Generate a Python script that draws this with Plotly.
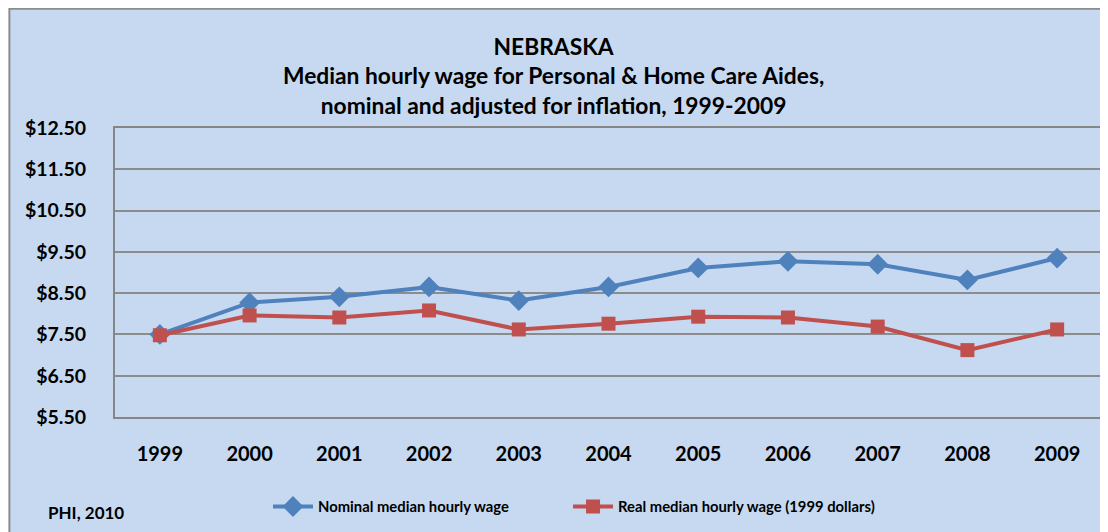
import plotly.graph_objects as go

# data
years = ["1999", "2000", "2001", "2002", "2003", "2004", "2005", "2006", "2007", "2008", "2009"]
nominal_wage = [7.50, 8.27, 8.41, 8.65, 8.32, 8.65, 9.11, 9.27, 9.20, 8.82, 9.35]
real_wage = [7.48, 7.96, 7.91, 8.08, 7.62, 7.76, 7.93, 7.91, 7.69, 7.12, 7.62]
ytick_values = [5.5, 6.5, 7.5, 8.5, 9.5, 10.5, 11.5, 12.5]
ytick_text = ["$5.50", "$6.50", "$7.50", "$8.50", "$9.50", "$10.50", "$11.50", "$12.50"]

blue = "#4F81BD"
red = "#C0504D"
font_family = "Lato, 'Open Sans', sans-serif"

fig = go.Figure()
fig.add_trace(go.Scatter(
    x=years, y=nominal_wage, name="Nominal median hourly wage",
    mode="lines+markers",
    line=dict(color=blue, width=4),
    marker=dict(symbol="diamond", size=16, color=blue),
    legend="legend",
))
fig.add_trace(go.Scatter(
    x=years, y=real_wage, name="Real median hourly wage (1999 dollars)",
    mode="lines+markers",
    line=dict(color=red, width=4),
    marker=dict(symbol="square", size=14, color=red),
    legend="legend2",
))

# chart area background with border
fig.add_shape(type="rect", xref="paper", yref="paper",
              x0=-0.107, x1=1.02, y0=-0.5, y1=1.413,
              fillcolor="#C6D9F1", line=dict(color="#8C8C8C", width=2),
              layer="below")

legend_style = dict(
    orientation="h", y=-0.311, xanchor="left", yanchor="middle",
    bgcolor="rgba(0,0,0,0)",
    font=dict(size=14.8, weight="bold"),
    itemwidth=40,
)

# page body has an 8px margin, so the figure is 8px smaller than the window
fig.update_layout(
    width=1100, height=524,
    margin=dict(l=107, r=4, t=120, b=115),
    paper_bgcolor="white",
    plot_bgcolor="white",
    font=dict(family=font_family, color="black"),
    title=dict(
        text="NEBRASKA<br>Median hourly wage for Personal & Home Care Aides,<br>nominal and adjusted for inflation, 1999-2009",
        x=0.496, xref="container", xanchor="center",
        y=0.911, yanchor="top",
        font=dict(size=22.8, family=font_family, weight="bold"),
    ),
    showlegend=True,
    legend=dict(x=0.155, **legend_style),
    legend2=dict(x=0.459, **legend_style),
)

fig.update_xaxes(
    type="category", range=[-0.5, len(years) - 0.5],
    showgrid=False, showline=True, linecolor="#868686", linewidth=2,
    mirror=True, ticks="", tickfont=dict(size=20, weight="bold"), ticklabelstandoff=18,
)
fig.update_yaxes(
    range=[5.5, 12.5], tickvals=ytick_values, ticktext=ytick_text,
    showgrid=True, gridcolor="#8C8C8C", gridwidth=1.5,
    showline=True, linecolor="#868686", linewidth=2, mirror=True,
    zeroline=False, ticks="", tickfont=dict(size=19.5, weight="bold"), ticklabelstandoff=23,
)

fig.add_annotation(text="PHI, 2010", xref="paper", yref="paper",
                   x=-0.0697, y=-0.332, xanchor="left", yanchor="middle",
                   showarrow=False, font=dict(size=17, weight="bold"))

fig.write_html("out.html")
